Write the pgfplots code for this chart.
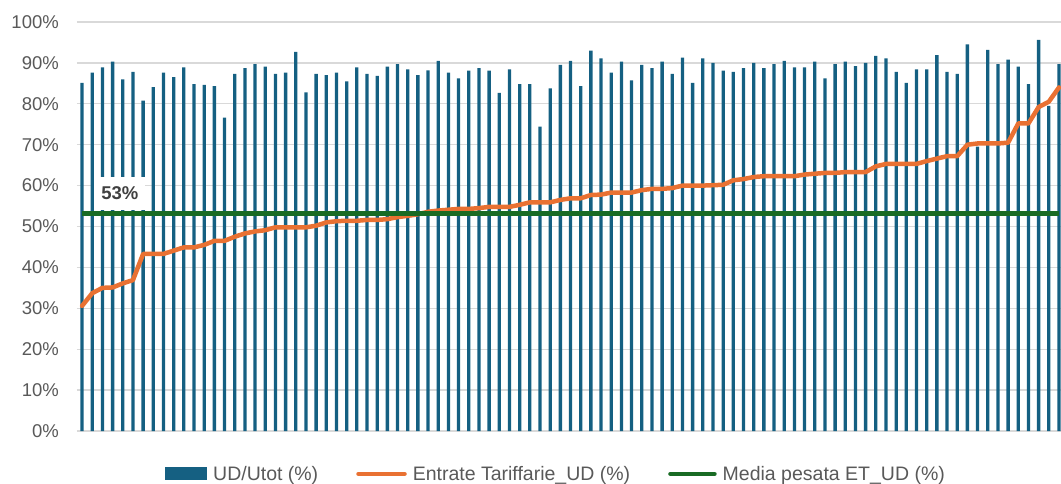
\documentclass[border=0pt]{standalone}
\usepackage{pgfplots}
\pgfplotsset{compat=1.18}
\usepackage{pgfplotstable}
\usepackage{fontspec}
\setmainfont{Liberation Sans}

\definecolor{udblue}{HTML}{156082}
\definecolor{etorange}{HTML}{E97132}
\definecolor{mediagreen}{HTML}{196B24}
\definecolor{gridgray}{HTML}{D9D9D9}
\definecolor{labelgray}{HTML}{595959}
\definecolor{datalabel}{HTML}{404040}

% x = category index, ud = UD/Utot (%), et = Entrate Tariffarie_UD (%)
\pgfplotstableread{
x  ud    et
0  85.1  30.6
1  87.6  33.7
2  88.9  35.0
3  90.3  35.1
4  86.0  36.1
5  87.8  36.9
6  80.8  43.3
7  84.1  43.3
8  87.6  43.3
9  86.5  44.1
10 88.9  44.9
11 84.8  44.9
12 84.6  45.5
13 84.3  46.5
14 76.6  46.5
15 87.3  47.5
16 88.7  48.3
17 89.7  48.8
18 89.1  49.1
19 87.3  49.8
20 87.6  49.8
21 92.7  49.8
22 82.8  49.8
23 87.3  50.2
24 87.0  51.0
25 87.6  51.3
26 85.5  51.4
27 88.9  51.4
28 87.3  51.6
29 86.8  51.6
30 89.1  51.8
31 89.7  52.3
32 88.4  52.6
33 87.0  53.0
34 88.2  53.6
35 90.5  53.9
36 87.6  54.1
37 86.2  54.3
38 88.1  54.3
39 88.7  54.5
40 88.1  54.8
41 82.7  54.8
42 88.4  54.8
43 84.8  55.3
44 84.8  55.9
45 74.4  55.9
46 83.8  55.9
47 89.5  56.5
48 90.5  56.9
49 84.3  56.9
50 93.0  57.7
51 91.1  57.8
52 87.6  58.3
53 90.3  58.3
54 85.7  58.3
55 89.5  58.9
56 88.7  59.2
57 90.3  59.2
58 87.3  59.4
59 91.3  60.0
60 85.1  60.0
61 91.1  60.0
62 90.0  60.1
63 88.1  60.2
64 87.8  61.3
65 88.7  61.6
66 90.0  62.1
67 88.7  62.3
68 89.7  62.3
69 90.5  62.3
70 88.9  62.3
71 88.9  62.7
72 90.3  62.9
73 86.2  63.1
74 89.7  63.1
75 90.3  63.3
76 89.2  63.3
77 90.0  63.3
78 91.7  64.7
79 91.1  65.3
80 87.8  65.3
81 85.1  65.3
82 88.4  65.3
83 88.4  66.0
84 91.9  66.6
85 87.8  67.2
86 87.3  67.2
87 94.5  70.0
88 69.5  70.3
89 93.2  70.3
90 89.7  70.3
91 90.8  70.5
92 89.1  75.2
93 84.8  75.2
94 95.6  79.2
95 79.5  80.5
96 89.7  84.0
}\udtable

\begin{document}
\begin{tikzpicture}
  \begin{axis}[
      name=ax,
      scale only axis,
      width=984pt, height=409pt,
      xmin=-0.5, xmax=96.2,
      ymin=0, ymax=100,
      ytick={0,10,...,100},
      yticklabel={\pgfmathprintnumber{\tick}\%},
      /pgf/number format/assume math mode=true,
      yticklabel style={font=\fontsize{18.5}{22}\selectfont, text=labelgray,
        anchor=east, inner sep=0pt, xshift=-18pt},
      xtick=\empty,
      ymajorgrids=true,
      grid style={gridgray, line width=1.3pt},
      axis line style={draw=none},
      major tick style={draw=none},
      legend columns=3,
      legend cell align=left,
      legend style={
        at={(0.0894,-0.105)}, anchor=west,
        draw=none, fill=none, inner sep=0pt,
        font=\fontsize{19.5}{23}\selectfont, text=labelgray,
        /tikz/every odd column/.append style={column sep=4pt},
        /tikz/every even column/.append style={column sep=36pt},
      },
    ]
    \addplot[ybar, bar width=3.3pt, fill=udblue, draw=none,
      legend image code/.code={\fill[udblue] (0pt,-6.5pt) rectangle (42pt,6.5pt);}]
      table[x=x, y=ud] {\udtable};
    \addlegendentry{UD/Utot (\%)}

    \addplot[etorange, line width=4.5pt, line join=round, line cap=round, mark=none,
      legend image code/.code={\draw[etorange, line width=4.5pt, line cap=round] (2pt,0pt) -- (48pt,0pt);}]
      table[x=x, y=et] {\udtable};
    \addlegendentry{Entrate Tariffarie\_UD (\%)}

    \addplot[mediagreen, line width=5pt, mark=none,
      legend image code/.code={\draw[mediagreen, line width=4.5pt, line cap=round] (2pt,0pt) -- (46pt,0pt);}]
      coordinates {(0,53.3) (96,53.3)}
      node[pos=0, anchor=south west, xshift=9.7pt, yshift=1pt, fill=white,
        minimum width=51pt, minimum height=33pt, inner sep=0pt,
        font=\bfseries\fontsize{18.5}{22}\selectfont, text=datalabel] {53\%};
    \addlegendentry{Media pesata ET\_UD (\%)}
  \end{axis}
  \pgfresetboundingbox
  \path[use as bounding box] ([shift={(-77pt,-52pt)}]ax.south west)
    rectangle ([shift={(0pt,22pt)}]ax.north east);
\end{tikzpicture}
\end{document}
